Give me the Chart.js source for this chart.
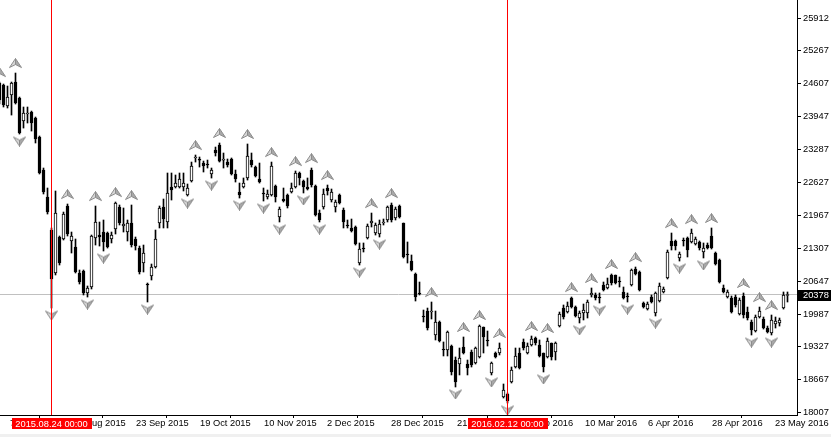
<!DOCTYPE html>
<html><head><meta charset="utf-8">
<script src="https://cdn.jsdelivr.net/npm/chart.js@4.4.1/dist/chart.umd.min.js"></script>
<style>
html,body{margin:0;padding:0;background:#f0f0f0;overflow:hidden;}
#wrap{position:relative;width:831px;height:434px;background:#ffffff;}
</style></head><body>
<div id="wrap"><canvas id="c"></canvas></div>
<script>
// Daily bars, index 0 = first (partly visible) bar at the left edge
const opens = [
24621,24581,24160,24381,24641,24320,23859,23999,24039,23919,
23538,22876,22334,21672,20810,21532,21492,22154,21452,21331,
20810,20850,20409,20529,21512,21572,21632,21612,21492,21692,
22134,21753,21632,21813,21492,21311,21010,20589,20750,20930,
21813,22134,21833,22535,22535,22535,22535,22374,22655,23117,
23097,23016,22996,22796,23277,23377,23076,23036,23097,22796,
22435,22535,22716,23076,22936,22696,22415,22334,22374,22555,
21933,22294,22374,22435,22535,22816,22655,22535,22876,22555,
22013,22134,22515,22274,22134,22374,22073,21773,21713,21733,
21010,21311,21512,21813,21612,21592,21813,21873,22174,21913,
22154,21813,21191,21050,20790,20409,19947,20047,20027,19566,
19827,19285,19265,19345,19064,18984,19325,18984,19225,19004,
19125,19727,19466,18804,19205,19205,18322,18382,18623,18924,
19205,19426,19205,19365,19506,19365,19205,19125,19406,19225,
19747,20107,20027,20308,20127,19907,20007,20007,20369,20369,
20328,20569,20509,20770,20770,20649,20429,20348,20569,20890,
20830,20208,20087,20328,20007,20248,20429,20710,21452,21452,
21111,21472,21512,21432,21391,21432,21231,21371,21552,21211,
21070,20509,20328,20308,20328,19987,20348,20027,19827,19646,
19927,19887,19706,19606,19787,19807,20107,20358];
const highs = [
24641,24601,24561,24641,24822,24340,24140,24140,24059,23939,
23558,22916,22515,21712,22455,21552,22033,22194,21632,21492,
20870,20870,20549,21572,22154,21833,21873,21632,21632,22234,
22174,22114,21873,22174,21532,21351,21371,20609,20990,21672,
22154,22294,22816,22816,22776,22816,22816,22595,23036,23177,
23137,23056,23076,22916,23337,23418,23217,23097,23117,22876,
22615,22716,23398,23217,22956,23016,22515,22475,23036,22575,
22134,22515,22395,22615,22856,22836,22675,22716,22916,22575,
22073,22495,22575,22495,22274,22395,22114,21873,21893,21753,
21412,21412,21793,22013,21813,21873,21893,22154,22214,22134,
22174,21813,21432,21171,20810,20629,20067,20107,20228,20047,
19847,19426,19646,19365,19125,19305,19526,19064,19265,19325,
19767,19727,19646,19024,19225,19406,18583,18402,18924,19305,
19305,19486,19406,19546,19526,19466,19205,19506,19406,19426,
20027,20168,20228,20328,20148,20047,20188,20268,20509,20409,
20409,20629,20709,20790,20770,20730,20529,20409,20890,20930,
20850,20228,20228,20369,20429,20609,20529,21271,21612,21472,
21231,21512,21532,21692,21532,21452,21412,21412,21713,21231,
21090,20569,20469,20348,20369,20308,20409,20127,19867,19967,
20127,19927,19746,19967,19927,19907,20429,20429];
const lows = [
24200,24140,24120,23979,24200,23598,23718,23819,23658,23418,
22796,22395,21993,20107,20770,20970,21472,21552,21211,20810,
20589,20369,20328,20489,21371,21351,21251,21311,21412,21592,
21773,21632,21452,21331,21271,20790,20830,20228,20669,20910,
21713,21713,21713,22274,22515,22515,22455,22354,22635,23036,
22936,22836,22916,22715,23157,23036,22916,22936,22776,22635,
22314,22515,22675,22936,22736,22615,22254,22294,22354,22234,
21833,22234,22114,22415,22515,22575,22415,22475,22535,21953,
21833,22093,22374,22234,22033,22194,21713,21713,21632,21371,
20970,21231,21492,21733,21572,21532,21773,21833,21833,21873,
21913,21111,21010,20850,20248,20369,19827,19666,19887,19466,
19426,19145,19145,18764,18523,18764,19185,18764,18924,18984,
19105,19205,19345,18764,19105,19165,18302,18202,18603,18904,
18884,19265,19185,19345,19365,19125,18824,19105,19064,19064,
19727,19887,20007,20107,19927,19807,19867,19907,20328,20268,
20208,20449,20489,20569,20589,20529,20288,20228,20549,20770,
20449,20107,20067,20208,19947,20228,20409,20690,21271,21271,
21050,21351,21131,21412,21371,21271,21111,21291,21291,20970,
20609,20409,20308,20007,20127,19967,19907,19867,19566,19626,
19907,19686,19606,19566,19706,19746,20087,20228];
const closes = [
24280,24180,24340,24621,24220,23618,24019,24019,23819,23498,
22816,22435,22033,20689,22013,21010,21993,21592,21552,20830,
20629,20409,20509,21552,21833,21532,21432,21331,21572,22214,
21813,21793,21813,21371,21351,20830,21211,20569,20930,21492,
22114,21893,22415,22475,22615,22696,22615,22515,22956,23137,
23076,22956,22976,22876,23217,23056,23097,22976,22796,22696,
22374,22615,23157,22976,22756,22635,22395,22395,22956,22334,
22093,22254,22154,22515,22816,22716,22535,22495,22575,21973,
21873,22395,22455,22435,22234,22214,21833,21753,21652,21391,
21291,21291,21753,21853,21773,21793,21833,22134,21873,22093,
21933,21131,21171,20870,20328,20389,19927,19706,20047,19827,
19446,19265,19626,18824,18623,19105,19205,18904,18964,19305,
19747,19526,19446,19004,19125,19305,18463,18242,18864,19145,
18904,19305,19345,19486,19406,19145,18924,19446,19125,19406,
19987,19927,20148,20127,19947,20007,20067,20228,20409,20308,
20308,20469,20589,20609,20609,20629,20308,20328,20870,20790,
20469,20127,20188,20228,20409,20549,20489,21231,21351,21351,
21191,21452,21271,21612,21492,21311,21311,21311,21311,20990,
20629,20429,20429,20027,20168,20268,19967,19907,19666,19927,
20047,19706,19626,19867,19847,19867,20369,20378];

// Fractal bars (bar indices): arrows above highs / below lows
const upFractals = [0,4,17,24,29,33,49,55,62,68,74,78,82,93,98,108,116,120,125,133,137,143,148,153,159,168,173,178,186,190,193];
const downFractals = [5,13,22,26,37,47,53,60,66,70,76,80,90,95,114,123,127,136,145,150,157,164,170,176,188,193];

// Time axis labels (positions in bar units) and price axis ticks
const xTickPos = [2.125,17.875,33.625,49.625,65.625,81.375,97.375,113.875,129.875,145.875,161.625,177.625,193.375];
const xTickLabels = ['7 Aug 2015','31 Aug 2015','23 Sep 2015','19 Oct 2015','10 Nov 2015','2 Dec 2015','28 Dec 2015','21 Jan 2016','17 Feb 2016','10 Mar 2016','6 Apr 2016','28 Apr 2016','23 May 2016'];
const yTicks = [18007,18667,19327,19987,20647,21307,21967,22627,23287,23947,24607,25267,25912];

// Vertical line markers
const markerPos = [13, 127];
const markerLabels = ['2015.08.24 00:00', '2016.02.12 00:00'];

const X_MIN = 0.125, X_MAX = 199.375, Y_MIN = 17961, Y_MAX = 26287;
const FONT = {family: "'Liberation Sans', Arial, sans-serif", size: 9.3};
const FONT_STR = "9.3px 'Liberation Sans', Arial, sans-serif";
const lastPrice = closes[closes.length - 1];

function arrowCanvas(up, offset) {
  const W = 13, gh = 9;
  const H = Math.ceil(2 * (offset + gh / 2)) + 1;
  const c = document.createElement('canvas'); c.width = W; c.height = H;
  const g = c.getContext('2d');
  const cy = H / 2 + (up ? -offset : offset);
  const t = cy - gh / 2, b = cy + gh / 2;
  const tip = up ? t : b, base = up ? b : t, notch = up ? b - 3 : t + 3;
  g.beginPath(); g.moveTo(6.5, tip); g.lineTo(0.5, base); g.lineTo(6.5, notch); g.closePath();
  g.fillStyle = '#d6d6d6'; g.fill();
  g.beginPath(); g.moveTo(6.5, tip); g.lineTo(12.5, base); g.lineTo(6.5, notch); g.closePath();
  g.fillStyle = '#a9a9a9'; g.fill();
  g.strokeStyle = '#8c8c8c'; g.lineWidth = 1;
  g.beginPath(); g.moveTo(6.5, tip); g.lineTo(0.5, base); g.lineTo(6.5, notch); g.lineTo(12.5, base); g.closePath(); g.stroke();
  g.beginPath(); g.moveTo(6.5, tip); g.lineTo(6.5, notch); g.stroke();
  return c;
}
const upImg = arrowCanvas(true, 10);
const downImg = arrowCanvas(false, 7.5);

const bodyData = opens.map((o, i) => ({x: i, y: [o, closes[i]]}));
const wickData = lows.map((l, i) => ({x: i, y: [l, highs[i]]}));
const bodyColors = opens.map((o, i) => closes[i] >= o ? '#ffffff' : '#000000');
const upData = upFractals.map(i => ({x: i, y: highs[i]}));
const downData = downFractals.map(i => ({x: i, y: lows[i]}));

const datasets = [
  {type: 'line', data: [{x: X_MIN, y: lastPrice}, {x: X_MAX, y: lastPrice}], borderColor: '#c0c0c0', borderWidth: 1, pointRadius: 0, order: 6},
  {type: 'bar', data: wickData, backgroundColor: '#000000', borderWidth: 0, barThickness: 1, maxBarThickness: 1, grouped: false, order: 5},
  {type: 'bar', data: bodyData, backgroundColor: bodyColors, borderColor: '#000000', borderWidth: 1, borderSkipped: false, barThickness: 3, maxBarThickness: 3, grouped: false, order: 4},
  {type: 'scatter', data: upData, pointStyle: upImg, pointRadius: 6, order: 3},
  {type: 'scatter', data: downData, pointStyle: downImg, pointRadius: 6, order: 2}
];
markerPos.forEach(m => datasets.push({type: 'line', data: [{x: m, y: Y_MIN}, {x: m, y: Y_MAX}], borderColor: '#ff0000', borderWidth: 1, pointRadius: 0, order: 0}));

const overlayPlugin = {
  id: 'overlay',
  afterDraw(chart) {
    const {ctx, chartArea} = chart;
    const xs = chart.scales.x, ys = chart.scales.y;
    ctx.save();
    ctx.font = FONT_STR;
    ctx.textBaseline = 'middle';
    markerPos.forEach((m, j) => {
      const px = xs.getPixelForValue(m);
      const text = markerLabels[j];
      const w = Math.round(ctx.measureText(text).width + 8);
      ctx.fillStyle = '#ff0000';
      ctx.fillRect(Math.round(px - w / 2), chartArea.bottom + 3, w, 11);
      ctx.fillStyle = '#ffffff'; ctx.textAlign = 'center';
      ctx.fillText(text, px, chartArea.bottom + 9);
    });
    const py = ys.getPixelForValue(lastPrice);
    ctx.fillStyle = '#000000';
    ctx.fillRect(chartArea.right + 1, Math.round(py) - 5, 33, 11);
    ctx.fillStyle = '#ffffff'; ctx.textAlign = 'left';
    ctx.fillText(String(lastPrice), chartArea.right + 6, py + 0.5);
    ctx.restore();
  }
};

new Chart(document.getElementById('c'), {
  type: 'bar',
  data: {datasets},
  options: {
    responsive: true, maintainAspectRatio: false, animation: false, events: [],
    layout: {padding: 0, autoPadding: false},
    plugins: {legend: {display: false}, tooltip: {enabled: false}},
    scales: {
      x: {
        type: 'linear', min: X_MIN, max: X_MAX, offset: false,
        afterBuildTicks: s => { s.ticks = xTickPos.map(v => ({value: v})); },
        afterFit: s => { s.height = 19; s.paddingLeft = 0; s.paddingRight = 0; },
        ticks: {autoSkip: false, maxRotation: 0, minRotation: 0, align: 'start', labelOffset: 2, padding: 0, color: '#000', font: FONT,
          callback: (v, i) => xTickLabels[i]},
        grid: {drawOnChartArea: false, drawTicks: true, tickLength: 3, color: '#000'},
        border: {display: true, color: '#000'}
      },
      y: {
        type: 'linear', position: 'right', min: Y_MIN, max: Y_MAX,
        afterBuildTicks: s => { s.ticks = yTicks.map(v => ({value: v})); },
        afterFit: s => { s.width = 34; s.paddingTop = 0; s.paddingBottom = 0; },
        ticks: {autoSkip: false, padding: 2, color: '#000', font: FONT, callback: v => String(v)},
        grid: {drawOnChartArea: false, drawTicks: true, tickLength: 4, color: '#000'},
        border: {display: true, color: '#000'}
      }
    }
  },
  plugins: [overlayPlugin]
});
</script>
</body></html>
